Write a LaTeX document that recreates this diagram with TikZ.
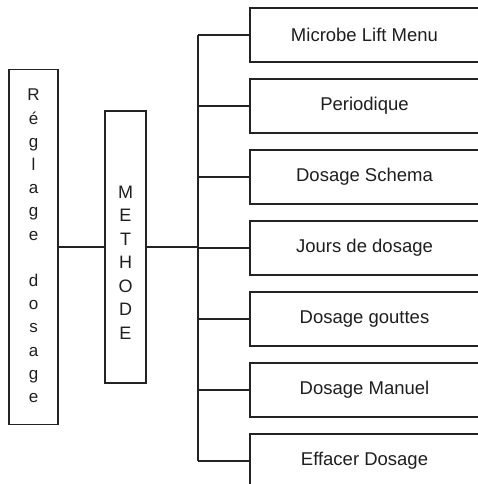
\documentclass[tikz,border=0pt]{standalone}
\usepackage{fontspec}
\setmainfont{Liberation Sans}
\usetikzlibrary{positioning}
\definecolor{boxline}{RGB}{35,35,35}
\definecolor{boxtext}{RGB}{30,30,30}
\tikzset{
    menubox/.style={draw=boxline, line width=1.3pt, minimum width=229pt,
                    minimum height=54pt, inner sep=0pt,
                    font=\fontsize{18.5}{22}\selectfont, text=boxtext},
    vbox/.style={draw=boxline, line width=1.3pt, inner sep=0pt},
    vtext/.style={align=center, inner sep=0pt,
                  font=\fontsize{17}{23.2}\selectfont, text=boxtext},
    link/.style={draw=boxline, line width=1.1pt}
}
\begin{document}
\begin{tikzpicture}[x=1pt, y=-1pt]
    \useasboundingbox (0,0) rectangle (478,484);
    \clip (0,0) rectangle (478,484);
    % Left column: main box and method box
    \node[vbox, minimum width=49pt, minimum height=355pt] (regl) at (33.5,247) {};
    \node[vtext] (regltxt) at (33.5,246)
        {R\\é\\g\\l\\a\\g\\e\\[23.2pt]d\\o\\s\\a\\g\\e};
    \node[vbox, minimum width=41pt, minimum height=272pt] (meth) at (125.5,247) {};
    \node[vtext, font=\fontsize{18}{23.5}\selectfont] (methtxt) at (125.5,262.5)
        {M\\E\\T\\H\\O\\D\\E};
    \coordinate (trunk) at (198,247);
    % Menu entries
    \foreach \n/\txt [count=\i from 0] in {
        b1/{Microbe Lift Menu},
        b2/{Periodique},
        b3/{Dosage Schema},
        b4/{Jours de dosage},
        b5/{Dosage gouttes},
        b6/{Dosage Manuel},
        b7/{Effacer Dosage}
    } {
        \node[menubox] (\n) at (364.5,35+71*\i) {\txt};
        \draw[link] (\n.west) -- (\n.west -| trunk);
    }
    % Connectors
    \draw[link] (regl.east) -- (meth.west);
    \draw[link] (meth.east) -- (trunk);
    \draw[link] (b1.west -| trunk) -- (b7.west -| trunk);
\end{tikzpicture}
\end{document}
